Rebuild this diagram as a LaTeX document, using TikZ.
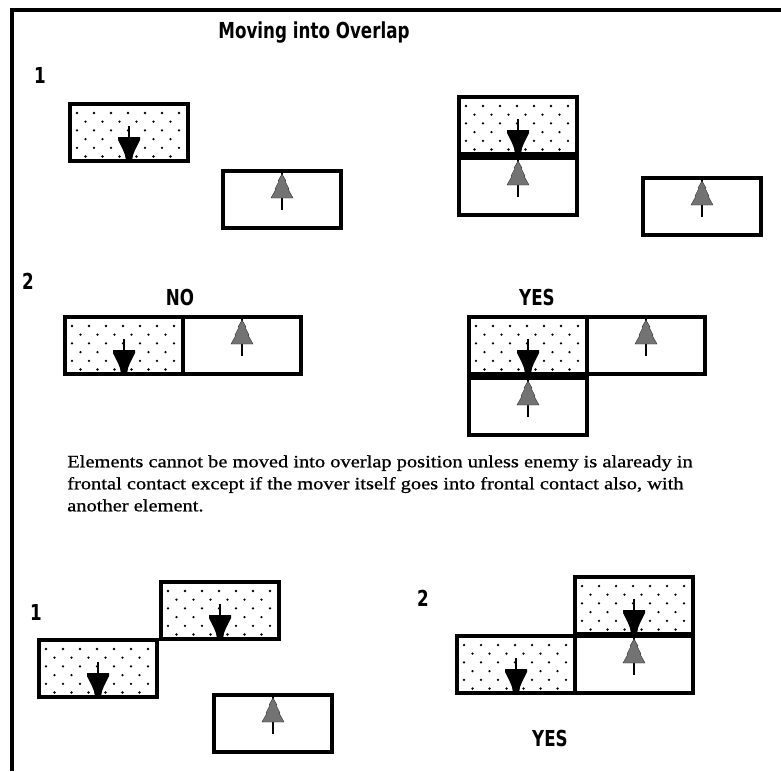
\documentclass[tikz,border=0pt]{standalone}
\usepackage{fontspec}
\newfontfamily\chicago{DejaVu Sans}[FakeStretch=0.76]
\newfontfamily\newyork{Liberation Serif}[FakeStretch=1.18,FakeBold=0.8]
\usetikzlibrary{calc}
\tikzstyle{frame}=[line width=3pt]
\tikzstyle{unitbox}=[draw, line width=3pt, inner sep=0pt, outer sep=1.5pt,
                     minimum width=88.5pt, minimum height=42.75pt]
\tikzstyle{stem}=[line width=1.2pt]
\tikzstyle{tree}=[fill=black!55, draw=black!80, line width=0.3pt]
\tikzstyle{heading}=[font=\chicago\bfseries\fontsize{16.5}{18}\selectfont, inner sep=0pt]
\tikzstyle{rule}=[font=\newyork\fontsize{13}{16.5}\selectfont, align=left, inner sep=0pt]

% own element: dotted box, black arrow down
\newcommand{\ownunit}[3]{%
  \begin{scope}[shift={(#2,#3)}]
    \begin{scope}
      \clip (3,3) rectangle (119,58);
      \foreach \j in {0,...,5}
        \foreach \i in {0,...,7}
          \fill ({9+17*\i+8.5*mod(\j,2)},{11+8.7*\j}) circle (0.95pt);
    \end{scope}
    \node[unitbox, anchor=north west] (#1) at (0,0) {};
    \draw[stem] (61,24) -- (61,37);
    \fill (50,35) -- (72,35) -- (72,38) -- (67,48) -- (65,53) -- (64,59)
      -- (58,59) -- (57,53) -- (55,48) -- (50,38) -- cycle;
  \end{scope}}
% enemy element: plain box, grey tree up
\newcommand{\foeunit}[3]{%
  \begin{scope}[shift={(#2,#3)}]
    \node[unitbox, anchor=north west] (#1) at (0,0) {};
    \draw[stem] (61,3) -- (61,41);
    \filldraw[tree] (61,5) -- (65,12) -- (64,12) -- (68,20) -- (67,20) -- (72,29)
      -- (50,29) -- (55,20) -- (54,20) -- (58,12) -- (57,12) -- cycle;
  \end{scope}}

\begin{document}
\begin{tikzpicture}[x=0.75pt,y=-0.75pt]
\useasboundingbox[fill=white] (0,0) rectangle (781,771);
\draw[frame] (781,10) -- (12,10) -- (12,771);

\node[heading] (title) at (314,33) {Moving into Overlap};

% case 1
\node[heading] (one) at (40,75) {1};
\ownunit{a}{68}{102}
\foeunit{b}{221}{169}
\ownunit{c}{457}{95}
\foeunit{d}{457}{156}
\foeunit{e}{641}{176}

% case 2
\node[heading] (two) at (28,281) {2};
\node[heading] (no) at (180,297) {NO};
\node[heading] (yes) at (537,297) {YES};
\ownunit{f}{63}{315}
\foeunit{g}{181}{315}
\ownunit{h}{467}{315}
\foeunit{i}{585}{315}
\foeunit{k}{467}{376}

\node[rule, anchor=north west] (text) at (67,455)
  {Elements cannot be moved into overlap position unless enemy is alaready in\\
   frontal contact except if the mover itself goes into frontal contact also, with\\
   another element.};

% lower cases
\node[heading] (three) at (36,612) {1};
\ownunit{l}{159}{580}
\ownunit{m}{37}{638}
\foeunit{n}{212}{693}

\node[heading] (four) at (423,598) {2};
\ownunit{p}{455}{634}
\ownunit{q}{573}{575}
\foeunit{r}{573}{634}
\node[heading] (yes2) at (550,738) {YES};
\end{tikzpicture}
\end{document}
